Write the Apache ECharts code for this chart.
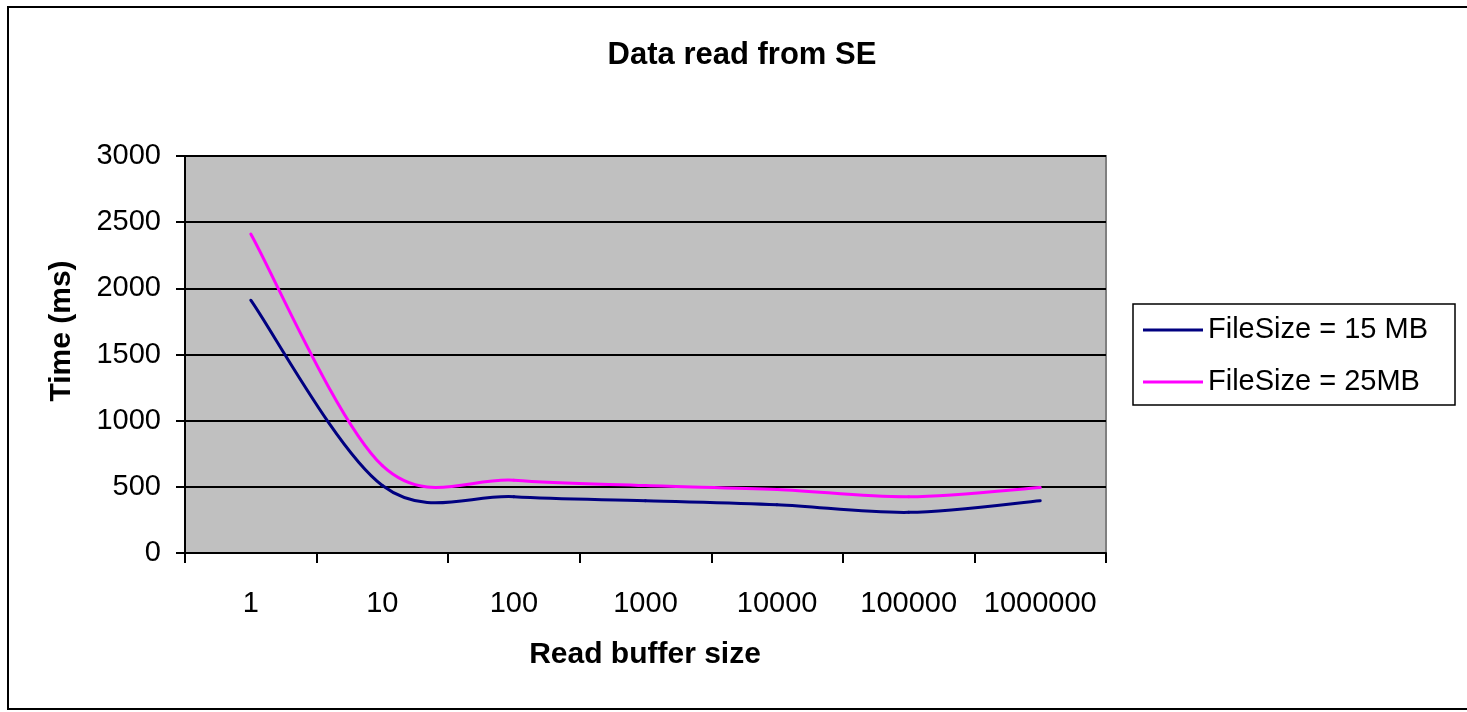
<!DOCTYPE html>
<html>
<head>
<meta charset="utf-8">
<title>Data read from SE</title>
<script src="https://cdn.jsdelivr.net/npm/echarts@6/dist/echarts.min.js"></script>
<style>
  html, body { margin: 0; padding: 0; background: #fff; }
  #chart { width: 1467px; height: 712px; }
</style>
</head>
<body>
<div id="chart"></div>
<script>
// Read buffer sizes (category axis) and read times in ms
const bufferSizes = ['1', '10', '100', '1000', '10000', '100000', '1000000'];
const fileSize15 = [1910, 510, 425, 395, 365, 307, 395];
const fileSize25 = [2410, 660, 550, 510, 480, 425, 495];
const timeTicks = { min: 0, max: 3000, interval: 500 };

const FONT = '"Liberation Sans", Arial, sans-serif';

// Smoothed line: cubic Bezier segments through every point, with
// Catmull-Rom tangents (end points reuse themselves as neighbours).
function smoothLine(color) {
  return function (params, api) {
    const n = params.dataInsideLength;
    const i = params.dataIndexInside;
    if (i >= n - 1) return null;
    const pt = function (k) {
      k = Math.max(0, Math.min(n - 1, k));
      return api.coord([k, api.value(1, k)]);
    };
    const p0 = pt(i - 1), p1 = pt(i), p2 = pt(i + 1), p3 = pt(i + 2);
    return {
      type: 'bezierCurve',
      silent: true,
      shape: {
        x1: p1[0], y1: p1[1],
        cpx1: p1[0] + (p2[0] - p0[0]) / 6, cpy1: p1[1] + (p2[1] - p0[1]) / 6,
        cpx2: p2[0] - (p3[0] - p1[0]) / 6, cpy2: p2[1] - (p3[1] - p1[1]) / 6,
        x2: p2[0], y2: p2[1]
      },
      style: { fill: 'none', stroke: color, lineWidth: 3, lineCap: 'round' }
    };
  };
}

function toPairs(values) {
  return values.map(function (v, k) { return [k, v]; });
}

const chart = echarts.init(document.getElementById('chart'), null, { renderer: 'canvas' });

chart.setOption({
  backgroundColor: '#ffffff',
  animation: false,
  title: {
    text: 'Data read from SE',
    left: 742,
    textAlign: 'center',
    top: 40,
    padding: 0,
    textStyle: { fontFamily: FONT, fontSize: 31, fontWeight: 'bold', color: '#000' }
  },
  legend: {
    orient: 'vertical',
    left: 1133,
    top: 304,
    padding: [11, 27, 8, 10],
    itemGap: 22,
    itemWidth: 60,
    itemHeight: 3,
    icon: 'rect',
    borderColor: '#000',
    borderWidth: 1.5,
    backgroundColor: '#fff',
    textStyle: { fontFamily: FONT, fontSize: 29, color: '#000', lineHeight: 30 },
    data: ['FileSize = 15 MB', 'FileSize = 25MB']
  },
  grid: {
    left: 185,
    right: 361,
    top: 156,
    bottom: 159,
    show: true,
    backgroundColor: '#c0c0c0',
    borderColor: '#808080',
    borderWidth: 2
  },
  xAxis: {
    type: 'category',
    data: bufferSizes,
    boundaryGap: true,
    axisLine: { lineStyle: { color: '#000', width: 2 } },
    axisTick: { show: true, length: 10, lineStyle: { color: '#000', width: 2 } },
    axisLabel: { interval: 0, margin: 36, fontFamily: FONT, fontSize: 29, color: '#000' },
    splitLine: { show: false }
  },
  yAxis: {
    type: 'value',
    min: timeTicks.min,
    max: timeTicks.max,
    interval: timeTicks.interval,
    axisLine: { show: true, lineStyle: { color: '#000', width: 2 } },
    axisTick: { show: true, length: 9, lineStyle: { color: '#000', width: 2 } },
    axisLabel: {
      margin: 24, fontFamily: FONT, fontSize: 29, color: '#000',
      formatter: function (v) { return String(v); }
    },
    splitLine: { show: true, lineStyle: { color: '#000', width: 2 } }
  },
  graphic: [
    {
      type: 'rect',
      silent: true,
      shape: { x: 8, y: 7, width: 1470, height: 702 },
      style: { fill: 'none', stroke: '#000', lineWidth: 2 }
    },
    {
      type: 'text',
      silent: true,
      x: 62,
      y: 331,
      rotation: Math.PI / 2,
      style: {
        text: 'Time (ms)',
        fontFamily: FONT, fontSize: 30, fontWeight: 'bold', fill: '#000',
        align: 'center', verticalAlign: 'middle'
      }
    },
    {
      type: 'text',
      silent: true,
      x: 645,
      y: 655,
      style: {
        text: 'Read buffer size',
        fontFamily: FONT, fontSize: 30, fontWeight: 'bold', fill: '#000',
        align: 'center', verticalAlign: 'middle'
      }
    }
  ],
  series: [
    {
      name: 'FileSize = 15 MB',
      type: 'custom',
      data: toPairs(fileSize15),
      encode: { x: 0, y: 1 },
      renderItem: smoothLine('#000080'),
      itemStyle: { color: '#000080' }
    },
    {
      name: 'FileSize = 25MB',
      type: 'custom',
      data: toPairs(fileSize25),
      encode: { x: 0, y: 1 },
      renderItem: smoothLine('#ff00ff'),
      itemStyle: { color: '#ff00ff' }
    }
  ]
});
</script>
</body>
</html>
